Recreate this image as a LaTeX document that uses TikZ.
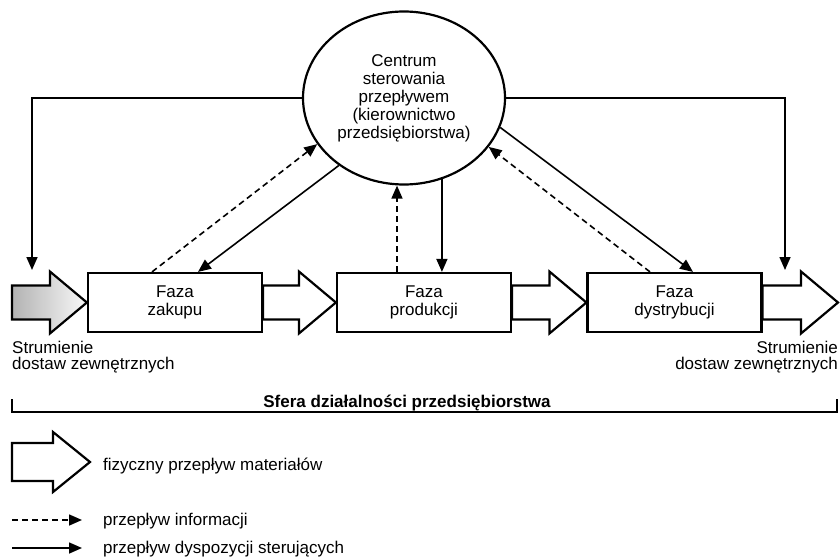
\documentclass[tikz,border=0pt]{standalone}
\usepackage{fontspec}
\setmainfont{Liberation Sans}
\usetikzlibrary{arrows.meta}
\usetikzlibrary{calc}
\usetikzlibrary{shapes.geometric}
\tikzstyle{phase}=[draw, line width=2.2pt, minimum width=174pt, minimum height=59pt, align=center, font=\fontsize{17}{18}\selectfont]
\tikzstyle{centre}=[draw, ellipse, line width=2.2pt, minimum width=202pt, minimum height=173pt, inner sep=0pt, align=center, font=\fontsize{17}{18}\selectfont]
\tikzstyle{note}=[inner sep=0pt, font=\fontsize{17}{16}\selectfont]
\tikzstyle{control}=[line width=1.6pt, -{Triangle[length=13pt, width=11pt]}]
\tikzstyle{info}=[control, dash pattern=on 6pt off 4pt]
\tikzstyle{flow}=[line width=2.2pt, line join=miter]
% block arrow: [options]{start}{tip}{half shaft}{half head}
\newcommand{\flowarrow}[5][]{%
  \draw[flow,#1] let \p1=#2, \p2=#3 in
    (\x1,\y2+#4pt) -- (\x2-37pt,\y2+#4pt) -- (\x2-37pt,\y2+#5pt) -- (\x2,\y2)
    -- (\x2-37pt,\y2-#5pt) -- (\x2-37pt,\y2-#4pt) -- (\x1,\y2-#4pt) -- cycle;}

\begin{document}
\begin{tikzpicture}[x=1pt, y=-1pt]
  \useasboundingbox (0,0) rectangle (840,559);
  \node[centre] (ctr) at (404,98) {Centrum\\sterowania\\przepływem\\(kierownictwo\\przedsiębiorstwa)};
  \node[phase] (zak) at (175,302.5) {Faza\\zakupu};
  \node[phase] (prod) at (424,302.5) {Faza\\produkcji};
  \node[phase] (dys) at (674.5,302.5) {Faza\\dystrybucji};
  \coordinate (in) at (12,302.5);
  \coordinate (out) at (838,302.5);
  \coordinate (inTop) at (32,270);
  \coordinate (outTop) at (785,270);

  % material flow
  \flowarrow[left color=gray!60, right color=gray!5]{(in)}{(zak.west)}{17}{31}
  \flowarrow{(zak.east)}{(prod.west)}{17}{31}
  \flowarrow{(prod.east)}{(dys.west)}{17}{31}
  \flowarrow{(dys.east)}{(out)}{17}{31}

  % control and information
  \draw[control] (ctr.west) -| (inTop);
  \draw[control] (ctr.east) -| (outTop);
  \draw[control] (ctr.226) -- ([xshift=23pt]zak.north);
  \draw[info] ([xshift=-23pt]zak.north) -- (ctr.208);
  \draw[control] (ctr.295) -- (ctr.295 |- prod.north);
  \coordinate (prodInfo) at ([xshift=-27pt]prod.north);
  \draw[info] (prodInfo) -- (prodInfo |- ctr.south);
  \draw[info] ([xshift=-24.5pt]dys.north) -- (ctr.330);
  \draw[control] (ctr.343) -- ([xshift=18.5pt]dys.north);

  \node[note, anchor=north west, align=left] (srcIn) at (12,341) {Strumienie\\dostaw zewnętrznych};
  \node[note, anchor=north east, align=right] (srcOut) at (838,341) {Strumienie\\dostaw zewnętrznych};

  \draw[line width=1.8pt] (12,399) -- (12,412) -- (837,412) -- (837,399);
  \node[note, font=\fontsize{17}{18}\selectfont\bfseries, anchor=base] (sfera) at (407,407) {Sfera działalności przedsiębiorstwa};

  % legend
  \coordinate (legA) at (12,462);
  \coordinate (legB) at (90,462);
  \flowarrow{(legA)}{(legB)}{19}{30}
  \node[note, anchor=base west] (legFlow) at (103,470) {fizyczny przepływ materiałów};
  \coordinate (infoA) at (12,520);
  \coordinate (infoB) at (82,520);
  \draw[info] (infoA) -- (infoB);
  \node[note, anchor=base west] (legInfo) at (103,525) {przepływ informacji};
  \coordinate (ctrlA) at (12,548);
  \coordinate (ctrlB) at (82,548);
  \draw[control] (ctrlA) -- (ctrlB);
  \node[note, anchor=base west] (legCtrl) at (103,553) {przepływ dyspozycji sterujących};
\end{tikzpicture}
\end{document}
